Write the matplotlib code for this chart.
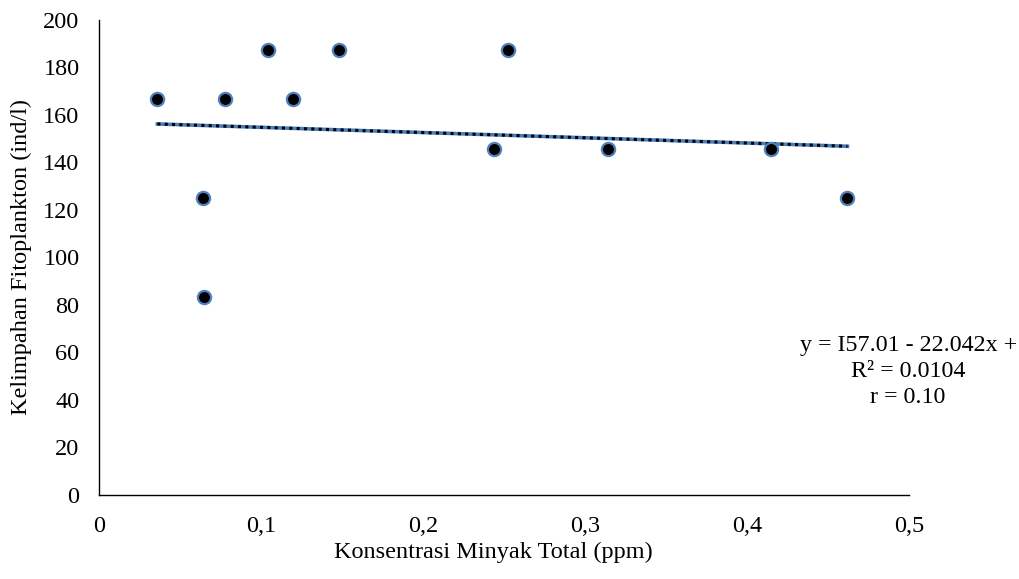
import matplotlib.pyplot as plt
import numpy as np

plt.rcParams['font.family'] = ['Liberation Serif', 'DejaVu Serif']

# Data
konsentrasi = [0.036, 0.064, 0.065, 0.078, 0.104, 0.120, 0.148, 0.244, 0.2525, 0.314, 0.415, 0.462]
kelimpahan = [166.7, 125.0, 83.3, 166.7, 187.5, 166.7, 187.5, 145.8, 187.5, 145.8, 145.8, 125.0]

# Trendline coefficients from the label
intercept = 157.01
slope = -22.042
label_lines = ['y = I57.01 - 22.042x +', 'R² = 0.0104', 'r = 0.10']

fig = plt.figure(figsize=(10.19, 5.79), dpi=100)
ax = fig.add_axes([0.0972, 0.1451, 0.7949, 0.8204])

x = np.array(konsentrasi)
xt = np.array([x.min(), x.max()])
yt = intercept + slope * xt
ax.plot(xt, yt, color='#4a7ebb', lw=2.6, zorder=2)
ax.plot(xt, yt, color='black', lw=2.2, linestyle=(0, (1, 1.4)), zorder=3)

ax.plot(konsentrasi, kelimpahan, 'o', ms=9.5, mfc='black', mec='#4f81bd', mew=1.6,
        zorder=4, clip_on=False)

ax.set_xlim(0, 0.5)
ax.set_ylim(0, 200)
ax.set_xticks(np.arange(0, 0.51, 0.1))
ax.set_xticklabels(['0', '0,1', '0,2', '0,3', '0,4', '0,5'])
ax.set_yticks(np.arange(0, 201, 20))
ax.tick_params(length=0, labelsize=17.5)
ax.tick_params(axis='x', pad=15)
ax.tick_params(axis='y', pad=14)

for s in ['top', 'right']:
    ax.spines[s].set_visible(False)
for s in ['left', 'bottom']:
    ax.spines[s].set_linewidth(1.0)

ax.set_xlabel('Konsentrasi Minyak Total (ppm)', fontsize=17.5)
ax.xaxis.set_label_coords(0.487, -0.098)
ax.set_ylabel('Kelimpahan Fitoplankton (ind/l)', fontsize=17.5, labelpad=8)

ax.text(0.4994, 52.0, '\n'.join(label_lines), fontsize=17.3, ha='center', va='center',
        linespacing=1.3, clip_on=False)

fig.savefig('out.png', dpi=100)
plt.close()
